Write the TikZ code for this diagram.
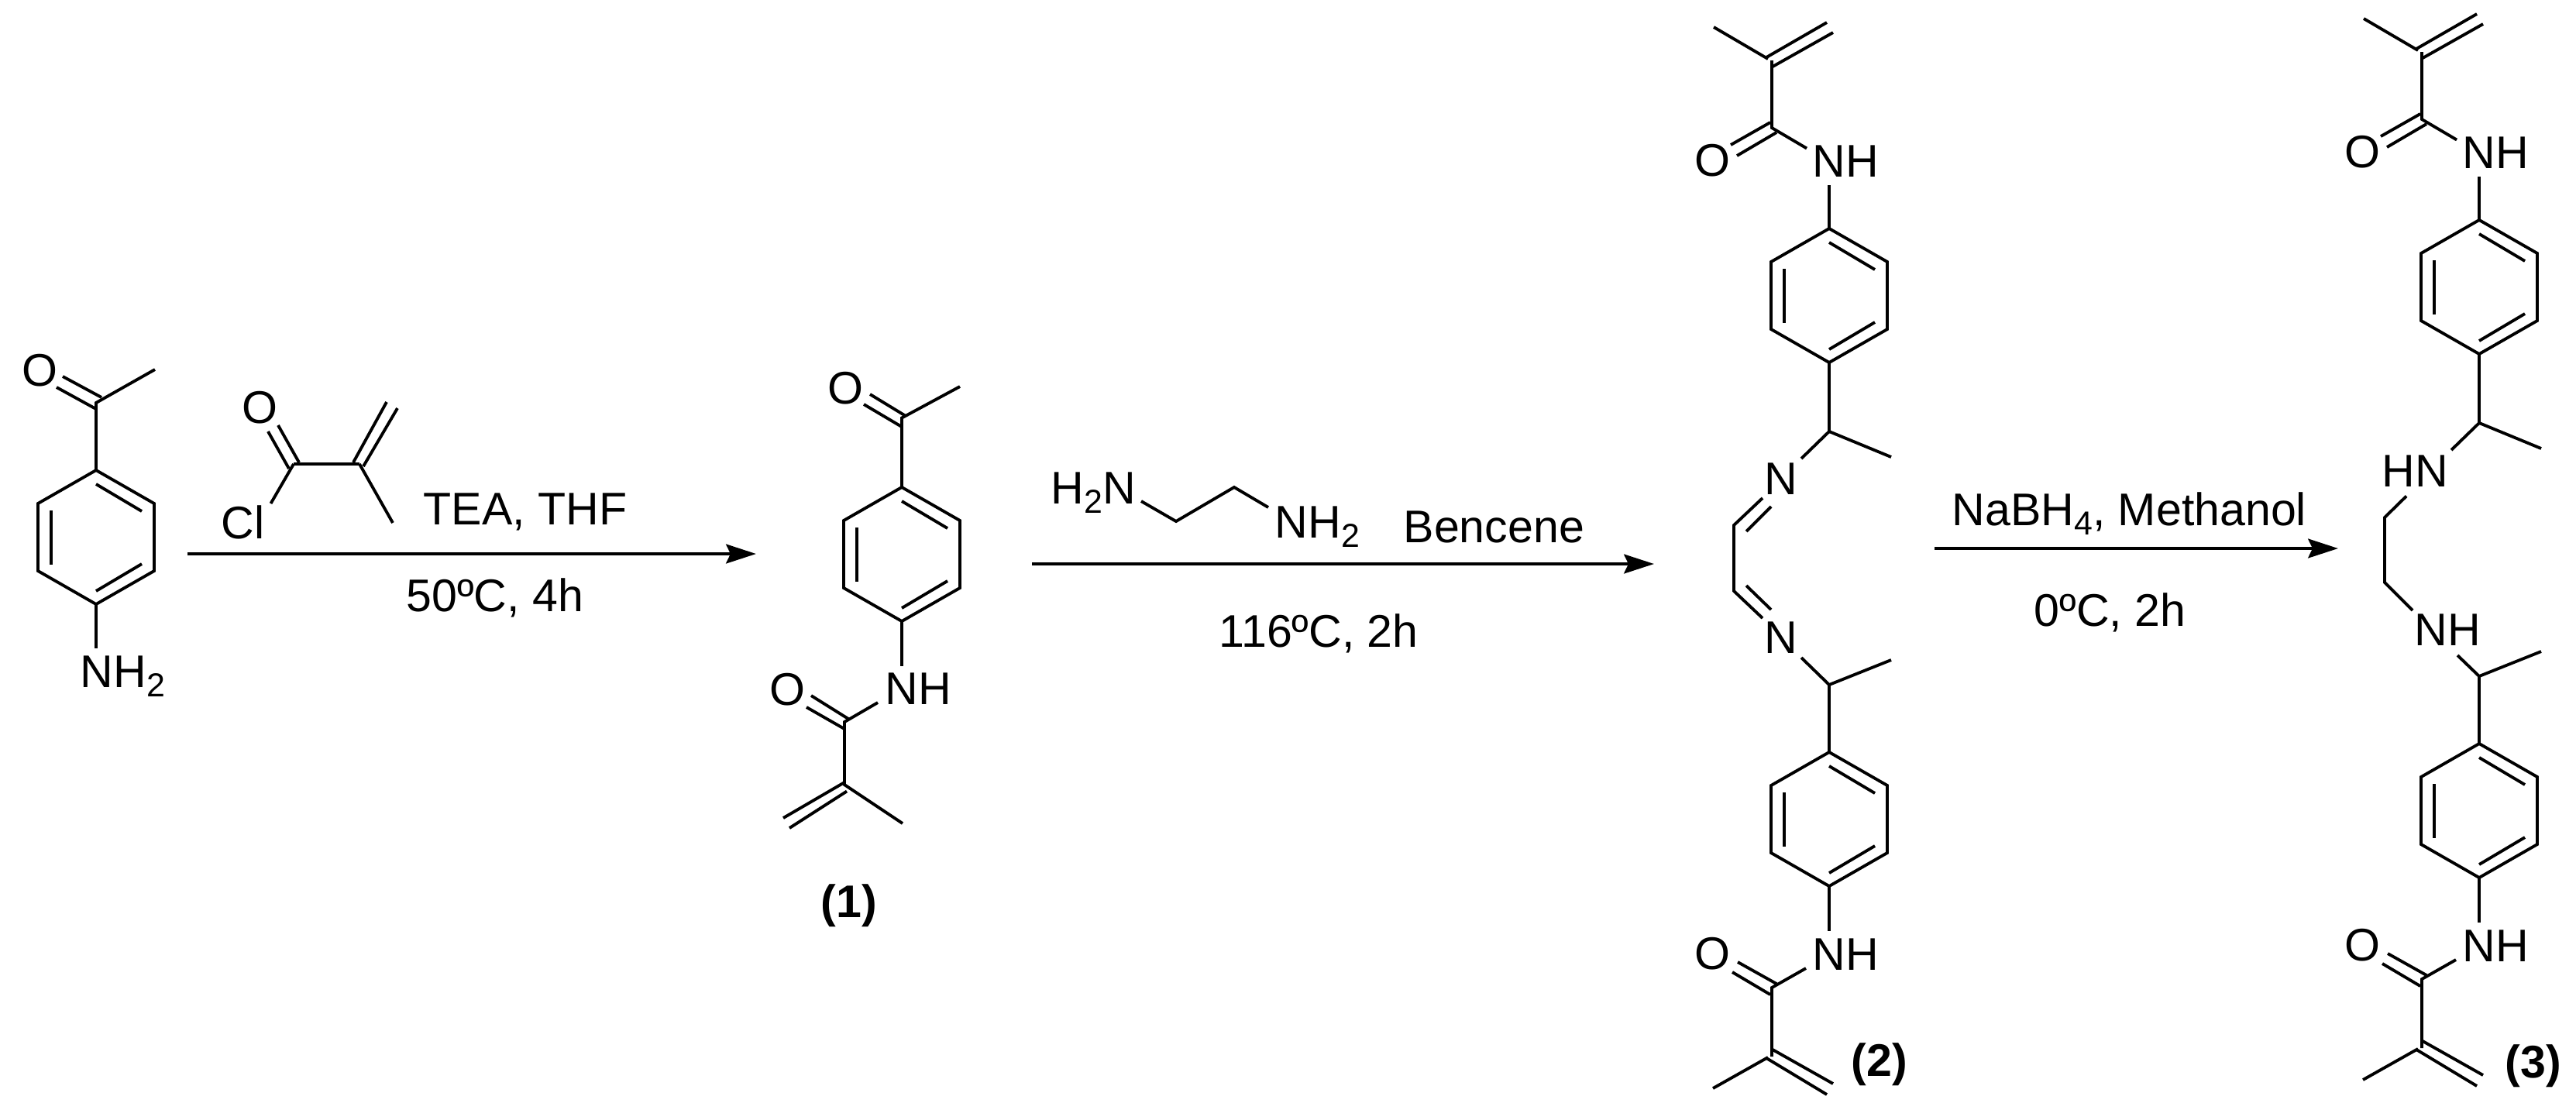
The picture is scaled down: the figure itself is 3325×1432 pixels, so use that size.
\documentclass[tikz,border=0pt]{standalone}
\usepackage{fontspec}
\setmainfont{Liberation Sans}
\usetikzlibrary{arrows.meta}
\tikzset{
	bond/.style={line width=1.1pt},
	rxnarrow/.style={line width=1.4pt, -{Stealth[length=11pt, width=7pt, inset=1.6pt]}},
	atom/.style={inner sep=0pt, anchor=base west, font=\fontsize{16.8}{20}\selectfont},
	oxygen/.style={atom, anchor=base},
	cmpd/.style={atom, anchor=base, font=\fontsize{16.8}{20}\selectfont\bfseries}
}
\def\chemsub#1{\raisebox{-0.12cm}{\fontsize{12.2}{14}\selectfont #1}}
\def\benzring(#1,#2){\begin{scope}[shift={(#1,#2)}]
	\draw[bond] (0,0) -- (75,43) -- (75,130) -- (0,173) -- (-75,130) -- (-75,43) -- cycle;
	\draw[bond] (0,18) -- (59,53);
	\draw[bond] (-58,52) -- (-58,122);
	\draw[bond] (0,156) -- (59,121);
\end{scope}}

\begin{document}
\begin{tikzpicture}[x=0.01cm, y=-0.01cm]
		\useasboundingbox (0,0) rectangle (3325,1432);
		
		%%%%% START %%%%%
		
		% aminoacetophenone
		\benzring(124,607)
		\draw[bond] (124,607) -- (124,520) -- (200,477);
		\draw[bond] (124,528) -- (73,500);
		\draw[bond] (131,513) -- (81,486);
		\draw[bond] (124,778) -- (124,837);
		\node[oxygen] (oa) at (51,498) {O};
		\node[atom] (nha) at (103,887) {NH\chemsub{2}};
		
		% methacryloyl chloride
		\draw[bond] (379,599) -- (464,599);
		\draw[bond] (373,605) -- (346,557);
		\draw[bond] (386,597) -- (359,549);
		\draw[bond] (379,599) -- (349.5,650);
		\draw[bond] (456,597) -- (499,519);
		\draw[bond] (469,602) -- (513,527);
		\draw[bond] (464,599) -- (507,675);
		\node[oxygen] (ocl) at (335,546) {O};
		\node[atom] (cl) at (285,695) {Cl};
		
		\node[atom] (teathf) at (546,677) {TEA, THF};
		\node[atom] (cond1) at (524,789) {50ºC, 4h};
		\coordinate (arr1s) at (242,715);
		\coordinate (arr1e) at (976,715);
		\draw[rxnarrow] (arr1s) -- (arr1e);
		
		% compound 1
		\benzring(1164,629)
		\draw[bond] (1164,629) -- (1164,539.5) -- (1239,499);
		\draw[bond] (1164,551) -- (1115,522);
		\draw[bond] (1169,537) -- (1123,509);
		\draw[bond] (1164,802) -- (1164,860);
		\draw[bond] (1133,907) -- (1090,932) -- (1090,1013) -- (1165,1063);
		\draw[bond] (1090,941) -- (1041,913);
		\draw[bond] (1095,928) -- (1047,898);
		\draw[bond] (1090,1010) -- (1011,1056);
		\draw[bond] (1093,1021.5) -- (1019,1069);
		\node[oxygen] (ob) at (1091,521) {O};
		\node[oxygen] (oc) at (1016,910) {O};
		\node[atom] (nhb) at (1142,909) {NH};
		\node[cmpd] (cmpda) at (1096,1184) {(1)};
		
		% ethylenediamine
		\draw[bond] (1473,647) -- (1518,673) -- (1593,629) -- (1637,655);
		\node[atom] (hna) at (1356,650) {H\chemsub{2}N};
		\node[atom] (hnb) at (1645,694) {NH\chemsub{2}};
		\node[atom] (bencene) at (1811,700) {Bencene};
		\node[atom] (cond2) at (1573,835) {116ºC, 2h};
		\coordinate (arr2s) at (1332,728);
		\coordinate (arr2e) at (2135,728);
		\draw[rxnarrow] (arr2s) -- (arr2e);
		
		% compounds 2 and 3, same outer parts
		\foreach \dx/\dy/\lx/\ly in {0/0/2325/849, 839/-11/2333/857}{
			\begin{scope}[shift={(\dx,\dy)}, name prefix=s\dx-]
				\draw[bond] (2212,35) -- (2282,76);
				\draw[bond] (2280,74) -- (2358,29);
				\draw[bond] (2288,86) -- (2366,42);
				\draw[bond] (2287,78) -- (2287,165) -- (2332,191.5);
				\draw[bond] (2285,158) -- (2234,187);
				\draw[bond] (2293,171) -- (2242,201);
				\node[oxygen] (otop) at (2210,227) {O};
				\node[atom] (nhtop) at (2339,228) {NH};
				\draw[bond] (2361,239) -- (2361,295);
				\benzring(2361,295)
				\draw[bond] (2361,468) -- (2361,557) -- (2441,590);
				\draw[bond] (2361,557) -- (2325,592);
				
				\draw[bond] (\lx,\ly) -- (2361,884) -- (2441,852);
				\draw[bond] (2361,884) -- (2361,971);
				\benzring(2361,971)
				\draw[bond] (2361,1144) -- (2361,1202);
				\node[oxygen] (obot) at (2210,1251) {O};
				\node[atom] (nhbot) at (2339,1252) {NH};
				\draw[bond] (2331,1250) -- (2287,1275) -- (2287,1364);
				\draw[bond] (2243,1242) -- (2293,1270);
				\draw[bond] (2236,1255) -- (2285,1284);
				\draw[bond] (2288,1355) -- (2366,1399);
				\draw[bond] (2280,1366) -- (2358,1413);
				\draw[bond] (2282,1365) -- (2211,1405);
			\end{scope}
		}
		
		% diimine of compound 2
		\node[atom] (nimu) at (2277,638) {N};
		\node[atom] (niml) at (2277,843) {N};
		\draw[bond] (2275,643) -- (2238,678) -- (2238,763) -- (2275,798);
		\draw[bond] (2286,654) -- (2254,686);
		\draw[bond] (2254,756) -- (2286,787);
		\node[cmpd] (cmpdb) at (2426,1389) {(2)};
		
		\node[atom] (cond3) at (2625,808) {0ºC, 2h};
		\node[atom] (nabh) at (2519,678) {NaBH\chemsub{4}, Methanol};
		\coordinate (arr3s) at (2497,708);
		\coordinate (arr3e) at (3018,708);
		\draw[rxnarrow] (arr3s) -- (arr3e);
		
		% diamine of compound 3
		\node[atom] (hnup) at (3074,628) {HN};
		\node[atom] (nhlo) at (3116,833) {NH};
		\draw[bond] (3106,640.5) -- (3078,668) -- (3078,752) -- (3114,788);
		\node[cmpd] (cmpdc) at (3270,1391) {(3)};
		
		%%%%% END %%%%%
\end{tikzpicture}
\end{document}
